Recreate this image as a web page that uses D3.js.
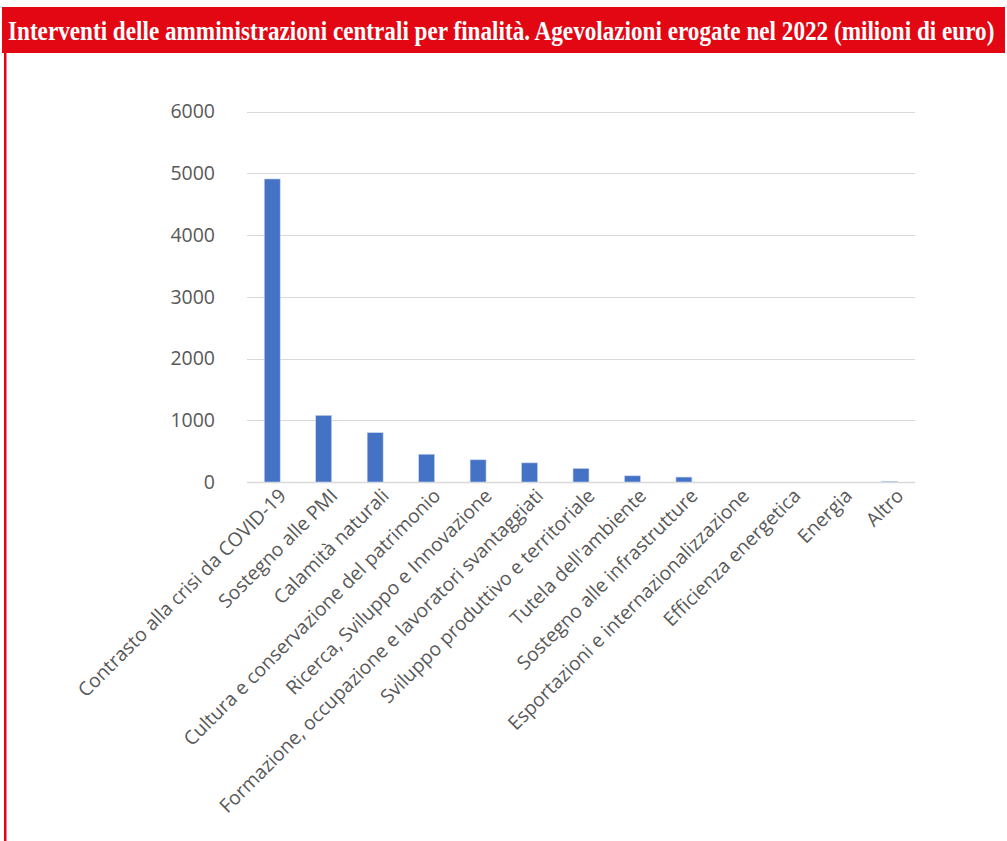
<!DOCTYPE html>
<html>
<head>
<meta charset="utf-8">
<script src="https://cdn.jsdelivr.net/npm/d3@7"></script>
<style>
  html, body { margin: 0; padding: 0; background: #fff; }
  svg { display: block; }
</style>
</head>
<body>
<svg id="chart" width="1007" height="841"></svg>
<script>
const title = "Interventi delle amministrazioni centrali per finalità. Agevolazioni erogate nel 2022 (milioni di euro)";
const categories = [
  "Contrasto alla crisi da COVID-19",
  "Sostegno alle PMI",
  "Calamità naturali",
  "Cultura e conservazione del patrimonio",
  "Ricerca, Sviluppo e Innovazione",
  "Formazione, occupazione e lavoratori svantaggiati",
  "Sviluppo produttivo e territoriale",
  "Tutela dell'ambiente",
  "Sostegno alle infrastrutture",
  "Esportazioni e internazionalizzazione",
  "Efficienza energetica",
  "Energia",
  "Altro"
];
const values = [4910, 1080, 800, 450, 360, 310, 220, 100, 80, 0, 0, 0, 12];
const yTicks = [0, 1000, 2000, 3000, 4000, 5000, 6000];

const svg = d3.select("#chart");
const red = "#E30613";

// header
svg.append("rect").attr("x", 2).attr("y", 7).attr("width", 1003).attr("height", 46).attr("fill", red);
const t = svg.append("text")
  .attr("x", 0).attr("y", 0)
  .attr("fill", "#fff")
  .attr("font-family", "'Liberation Serif', 'DejaVu Serif', serif")
  .attr("font-weight", "bold")
  .attr("font-size", 28)
  .text(title);
const tw = t.node().getComputedTextLength();
t.attr("transform", `translate(8,40) scale(${987 / tw},1)`);
// left border
svg.append("rect").attr("x", 4).attr("y", 53).attr("width", 2.5).attr("height", 788).attr("fill", red);

// plot
const x = d3.scaleBand().domain(categories).range([246.5, 915.5]).paddingInner(0.69).paddingOuter(0.345);
const y = d3.scaleLinear().domain([0, 6000]).range([482, 111.7]);

const grid = svg.append("g");
grid.selectAll("line").data(yTicks).join("line")
  .attr("x1", 247).attr("x2", 915)
  .attr("y1", d => Math.round(y(d)) + 0.5).attr("y2", d => Math.round(y(d)) + 0.5)
  .attr("stroke", "#d9d9d9").attr("stroke-width", d => d === 0 ? 1.5 : 1);

const yAxis = d3.axisLeft(y).tickValues(yTicks).tickSize(0).tickPadding(0).tickFormat(d3.format("d"));
const ya = svg.append("g").attr("transform", "translate(215,0)").call(yAxis);
ya.select(".domain").remove();
ya.selectAll("text")
  .attr("font-family", "'Open Sans', 'Liberation Sans', sans-serif")
  .attr("font-size", 19.5)
  .attr("fill", "#595959");

svg.append("g").selectAll("rect").data(values).join("rect")
  .attr("x", (d, i) => x(categories[i]))
  .attr("width", x.bandwidth())
  .attr("y", d => y(d))
  .attr("height", d => y(0) - y(d))
  .attr("fill", "#4472C4")
  .attr("stroke", "#c9d6ee")
  .attr("stroke-width", 0.6);

const xAxis = d3.axisBottom(x).tickSize(0).tickPadding(0);
const xa = svg.append("g").attr("transform", "translate(0,482)").call(xAxis);
xa.select(".domain").remove();
xa.selectAll("text")
  .attr("font-family", "'Open Sans', 'Liberation Sans', sans-serif")
  .attr("font-size", 19.3)
  .attr("fill", "#595959")
  .attr("text-anchor", "end")
  .attr("dy", null)
  .attr("y", 0)
  .attr("transform", "translate(15,15) rotate(-45)");
</script>
</body>
</html>
